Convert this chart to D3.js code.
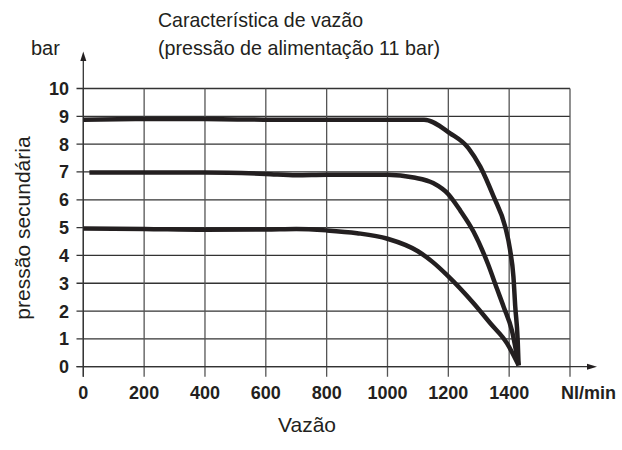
<!DOCTYPE html>
<html><head><meta charset="utf-8">
<script src="https://cdn.jsdelivr.net/npm/d3@7"></script>
<style>body{margin:0;background:#fff}svg{display:block}</style>
</head><body>
<svg id="c" width="622" height="450"></svg>
<script>
const xTicks = [0, 200, 400, 600, 800, 1000, 1200, 1400];
const yTicks = [0,1,2,3,4,5,6,7,8,9,10];
const xUnit = "Nl/min";
const yUnit = "bar";
const title1 = "Característica de vazão";
const title2 = "(pressão de alimentação 11 bar)";
const xLabel = "Vazão";
const yLabel = "pressão secundária";

// flow (Nl/min) and secondary pressure (bar) for each curve
const flow9 = [0,200,400,600,800,1000,1120,1206,1266,1305,1349,1387,1403,1414,1420,1428,1431];
const pres9 = [8.88,8.9,8.9,8.88,8.88,8.88,8.88,8.39,7.86,7.19,6.11,5.03,4.2,3.24,2.16,0.96,0.05];
const flow7 = [20,400,600,700,800,1000,1086,1150,1200,1240,1283,1330,1360,1382,1409,1431];
const pres7 = [6.98,6.98,6.93,6.88,6.9,6.9,6.8,6.6,6.2,5.6,4.85,3.7,2.8,2.15,1.3,0.05];
const flow5 = [0,200,400,600,700,800,900,1000,1100,1150,1195,1283,1338,1393,1431];
const pres5 = [4.97,4.95,4.92,4.93,4.95,4.9,4.8,4.6,4.15,3.75,3.3,2.28,1.56,0.84,0.05];

const svg = d3.select("#c");
const x = d3.scaleLinear().domain([0,1600]).range([83.3,570]);
const y = d3.scaleLinear().domain([0,10]).range([366.7,88.5]);
const ink = "#231f20";
const fontN = "'Liberation Sans', Arial, sans-serif";

// grid horizontal
svg.append("g").selectAll("line").data(yTicks).join("line")
  .attr("x1", 76.5).attr("x2", x(1600)).attr("y1", d=>y(d)).attr("y2", d=>y(d))
  .attr("stroke", "#333").attr("stroke-width", 1.3);
// grid vertical
svg.append("g").selectAll("line").data(xTicks.concat([1600])).join("line")
  .attr("x1", d=>x(d)).attr("x2", d=>x(d)).attr("y1", y(10)).attr("y2", y(0)+10)
  .attr("stroke", "#555").attr("stroke-width", 1.3);

// axes with arrows
svg.append("line").attr("x1", x(0)).attr("x2", x(0)).attr("y1", 58).attr("y2", y(0)+10)
  .attr("stroke", "#333").attr("stroke-width", 1.3);
svg.append("path").attr("d", `M${x(0)},51.5 L${x(0)-3},61 L${x(0)+3},61 Z`).attr("fill", ink);
svg.append("line").attr("x1", 76.5).attr("x2", 590).attr("y1", y(0)).attr("y2", y(0))
  .attr("stroke", "#333").attr("stroke-width", 1.3);
svg.append("path").attr("d", `M597,${y(0)} L587,${y(0)-3} L587,${y(0)+3} Z`).attr("fill", ink);

// tick labels
svg.append("g").selectAll("text").data(yTicks).join("text")
  .attr("x", 69).attr("y", d=>y(d)).attr("dy", "0.36em").attr("text-anchor", "end")
  .attr("font-family", fontN).attr("font-weight", "bold").attr("font-size", 18).attr("fill", ink)
  .text(d=>d);
svg.append("g").selectAll("text").data(xTicks).join("text")
  .attr("x", d=>x(d)).attr("y", 399).attr("text-anchor", "middle")
  .attr("font-family", fontN).attr("font-weight", "bold").attr("font-size", 18).attr("fill", ink)
  .text(d=>d);
svg.append("text").attr("x", 561).attr("y", 399)
  .attr("font-family", fontN).attr("font-weight", "bold").attr("font-size", 18).attr("fill", ink)
  .text(xUnit);

// titles
svg.append("text").attr("x", 158).attr("y", 27).attr("font-family", fontN).attr("font-size", 21)
  .attr("fill", ink).attr("textLength", 205).attr("lengthAdjust", "spacingAndGlyphs").text(title1);
svg.append("text").attr("x", 158).attr("y", 55).attr("font-family", fontN).attr("font-size", 21)
  .attr("fill", ink).attr("textLength", 282).attr("lengthAdjust", "spacingAndGlyphs").text(title2);
svg.append("text").attr("x", 31).attr("y", 55).attr("font-family", fontN).attr("font-size", 20)
  .attr("fill", ink).text(yUnit);
svg.append("text").attr("transform", "translate(29.5,228) rotate(-90)").attr("text-anchor", "middle")
  .attr("font-family", fontN).attr("font-size", 21).attr("fill", ink).text(yLabel);
svg.append("text").attr("x", 307).attr("y", 432).attr("text-anchor", "middle")
  .attr("font-family", fontN).attr("font-size", 21).attr("fill", ink).text(xLabel);

// curves
const line = d3.line().x(d=>x(d[0])).y(d=>y(d[1])).curve(d3.curveMonotoneX);
[[flow9,pres9],[flow7,pres7],[flow5,pres5]].forEach(([f,p])=>{
  svg.append("path").datum(f.map((v,i)=>[v,p[i]])).attr("d", line)
    .attr("fill","none").attr("stroke", ink).attr("stroke-width", 4.5)
    .attr("stroke-linejoin","round");
});
</script>
</body></html>
